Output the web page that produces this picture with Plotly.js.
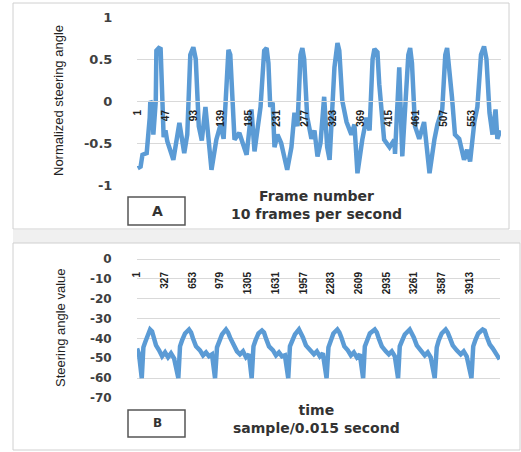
<!DOCTYPE html>
<html><head><meta charset="utf-8">
<script src="https://cdn.plot.ly/plotly-3.0.1.min.js"></script>
<style>html,body{margin:0;padding:0;background:#fff}#chart{width:521px;height:452px}</style>
</head><body><div id="chart"></div>
<script>
// Panel A: normalized steering angle per frame (10 frames per second)
const frameA = [1,6,9,16,21,22,26,27,31,32,
36,39,44,47,50,60,70,78,83,88,
93,97,102,107,113,116,123,131,138,143,
148,151,154,161,169,181,189,194,204,210,
214,217,220,224,227,232,238,248,255,260,
265,270,273,276,281,288,293,298,303,309,
314,318,326,331,334,339,346,354,359,364,
372,379,384,389,392,397,400,408,417,425,
426,433,438,443,448,451,454,459,466,474,
483,491,496,504,509,512,515,520,525,532,
540,545,550,557,562,568,573,577,582,587,
592,595,600];
const angleA = [-0.80,-0.78,-0.64,-0.62,-0.20,0.00,-0.05,-0.40,0.00,0.60,
0.63,0.62,-0.43,-0.35,-0.48,-0.70,-0.26,-0.62,-0.40,0.55,
0.64,0.50,-0.30,-0.47,-0.07,-0.30,-0.82,-0.46,-0.28,-0.45,
0.40,0.61,0.55,-0.46,-0.38,-0.64,-0.10,-0.60,-0.07,0.60,
0.63,0.45,-0.07,-0.02,-0.55,-0.40,-0.50,-0.82,-0.55,-0.14,
-0.30,0.55,0.63,0.50,-0.19,-0.45,-0.35,-0.66,-0.50,0.05,
-0.55,-0.70,0.40,0.69,0.60,0.00,-0.25,-0.40,-0.28,-0.86,
-0.46,-0.20,-0.35,0.50,0.62,0.58,0.20,-0.46,-0.55,-0.46,
-0.63,0.40,-0.66,-0.10,0.55,0.63,0.45,-0.30,-0.45,-0.25,
-0.86,-0.46,-0.28,-0.10,0.55,0.63,0.45,0.05,-0.40,-0.45,
-0.70,-0.58,-0.72,-0.25,-0.07,0.55,0.65,0.50,-0.14,-0.40,
-0.10,-0.45,-0.35];
const tickFramesA = [1,47,93,139,185,231,277,323,369,415,461,507,553];
const tickValuesA = [-1,-0.5,0,0.5,1];

// Panel B: steering angle value per sample (0.015 s)
const sampleB = [1,24,56,75,95,130,154,177,195,224,260,295,330,365,400,436,486,
506,530,565,612,636,659,694,741,777,812,847,882,918,
941,965,1000,1047,1071,1094,1129,1176,1211,1247,1282,1317,1349,
1370,1394,1429,1470,1494,1517,1553,1600,1635,1670,1705,1740,1779,
1799,1823,1858,1905,1928,1952,1987,2034,2081,2116,2151,2186,2230,
2252,2275,2310,2357,2381,2404,2439,2480,2516,2551,2586,2621,2660,
2680,2703,2739,2797,2821,2844,2880,2927,2962,2997,3033,3071,
3091,3115,3150,3208,3232,3256,3291,3338,3385,3420,3455,3502,
3526,3549,3584,3631,3655,3678,3714,3761,3808,3843,3878,3934,
3955,3979,4014,4067,4090,4113,4149,4184,4219,4266];
const angleB = [-45,-48,-60,-44.5,-42,-38,-35.5,-36.5,-39,-43.5,-46,-49,-47,-49.5,-47.5,-50,-60,
-44,-41,-37.5,-35.5,-37,-40,-44,-46,-48.5,-47,-49,-48,-60,
-44.5,-41.5,-38,-35.5,-37,-39.5,-43,-46.5,-48,-46.5,-49.5,-48,-60,
-44,-41,-37.5,-36,-37,-40,-44,-46,-48.5,-47,-49,-48.5,-60,
-44,-41.5,-38,-35.5,-37,-39.5,-43.5,-46,-48,-46.5,-49,-47.5,-60,
-44.5,-41,-37.5,-35.5,-37,-39.5,-44,-46,-48.5,-47,-49.5,-48,-60,
-44,-41,-37.5,-35.5,-37,-40,-44,-46.5,-48,-46.5,-49,-60,
-44,-41.5,-38,-35.5,-37,-39.5,-43.5,-46,-48.5,-47,-49.5,-60,
-44.5,-41,-37.5,-35.5,-37,-39.5,-43.5,-46,-48,-46.5,-49,-60,
-44,-41,-37.5,-35.5,-36,-39,-43,-45,-47,-50.5];
const tickSamplesB = [1,327,653,979,1305,1631,1957,2283,2609,2935,3261,3587,3913];
const tickValuesB = [-70,-60,-50,-40,-30,-20,-10,0];

const W = 521, H = 452;
const px = x => x / W, py = y => 1 - y / H;
const blue = '#5B9BD5';
const clear = 'rgba(0,0,0,0)';
const yTickFont = {family: 'DejaVu Sans', size: 13, color: '#404040', weight: 'bold'};
const xTickFont = {family: 'Liberation Sans', size: 10, color: '#222', weight: 'bold'};
const titleFont = {family: 'DejaVu Sans', size: 14, color: '#333', weight: 'bold'};
const yTitleFont = {family: 'Liberation Sans', size: 13, color: '#222'};

const traces = [
  {x: frameA, y: angleA, xaxis: 'x', yaxis: 'y', mode: 'lines', line: {color: blue, width: 4.5}, hoverinfo: 'skip'},
  {x: sampleB, y: angleB, xaxis: 'x2', yaxis: 'y2', mode: 'lines', line: {color: blue, width: 4.5}, hoverinfo: 'skip'}
];

function ann(text, x, y, font, angle) {
  return {text, x: px(x), y: py(y), xref: 'paper', yref: 'paper', showarrow: false,
    xanchor: 'center', yanchor: 'middle', font, textangle: angle || 0};
}
function rect(x0, y0, x1, y1, line, fill) {
  return {type: 'rect', xref: 'paper', yref: 'paper', x0: px(x0), x1: px(x1), y0: py(y1), y1: py(y0),
    line: line, fillcolor: fill || clear, layer: 'below'};
}

const layout = {
  width: W, height: H, margin: {l: 0, r: 0, t: 0, b: 0},
  paper_bgcolor: '#fff', plot_bgcolor: clear, showlegend: false,
  xaxis: {domain: [px(137), px(501)], range: [0, 601], anchor: 'free', position: py(101),
    tickmode: 'array', tickvals: tickFramesA, ticktext: tickFramesA.map(String), tickangle: -90,
    tickfont: xTickFont, showgrid: false, zeroline: false, showline: true, linecolor: '#d9d9d9',
    ticks: 'outside', ticklen: 4, tickcolor: clear, fixedrange: true},
  yaxis: {domain: [py(185), py(17)], range: [-1, 1], anchor: 'x',
    tickmode: 'array', tickvals: tickValuesA, ticktext: tickValuesA.map(String),
    tickfont: yTickFont, showgrid: true, gridcolor: '#d9d9d9', zeroline: false, showline: false,
    ticks: 'outside', ticklen: 21, tickcolor: clear, fixedrange: true},
  xaxis2: {domain: [px(137), px(500)], range: [0, 4270], anchor: 'free', position: py(259),
    tickmode: 'array', tickvals: tickSamplesB, ticktext: tickSamplesB.map(String), tickangle: -90,
    tickfont: xTickFont, showgrid: false, zeroline: false, showline: true, linecolor: '#d9d9d9',
    ticks: 'outside', ticklen: 8, tickcolor: clear, fixedrange: true},
  yaxis2: {domain: [py(398), py(259)], range: [-70, 0], anchor: 'x2',
    tickmode: 'array', tickvals: tickValuesB, ticktext: tickValuesB.map(String),
    tickfont: {family: 'DejaVu Sans', size: 12, color: '#404040', weight: 'bold'},
    showgrid: true, gridcolor: '#d9d9d9', zeroline: false, showline: false,
    ticks: 'outside', ticklen: 22, tickcolor: clear, fixedrange: true},
  shapes: [
    rect(13, 3, 509, 229, {color: '#d0d0d0', width: 1}),
    rect(13, 230, 521, 243, {width: 0}, '#f0f0f0'),
    rect(13, 243, 520, 450, {color: '#d0d0d0', width: 1}),
    rect(128, 197, 185, 225, {color: '#555', width: 1.5}),
    rect(128, 410, 185, 437, {color: '#555', width: 1.5})
  ],
  annotations: [
    ann('Normalized steering angle', 59, 101, yTitleFont, -90),
    ann('Steering angle value', 60, 328, yTitleFont, -90),
    ann('Frame number<br>10 frames per second', 316, 205, titleFont),
    ann('time<br>sample/0.015 second', 316, 419, titleFont),
    ann('A', 157, 211, {family: 'DejaVu Sans', size: 14, color: '#333', weight: 'bold'}),
    ann('B', 157, 423, {family: 'DejaVu Sans', size: 12, color: '#333', weight: 'bold'})
  ]
};

Plotly.newPlot('chart', traces, layout, {staticPlot: true, displayModeBar: false});
</script>
</body></html>
